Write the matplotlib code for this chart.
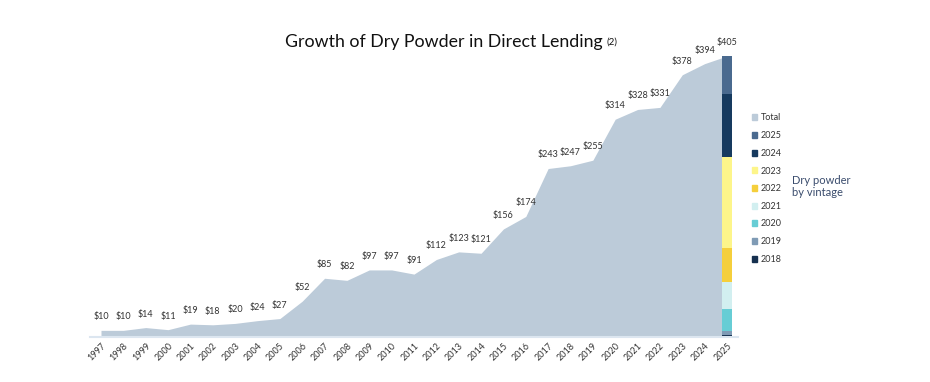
import matplotlib
matplotlib.use("Agg")
import matplotlib.pyplot as plt
from matplotlib.patches import Patch

years = list(range(1997, 2026))
totals = [10, 10, 14, 11, 19, 18, 20, 24, 27, 52, 85, 82, 97, 97, 91, 112, 123, 121,
          156, 174, 243, 247, 255, 314, 328, 331, 378, 394, 405]
vintages = ["2018", "2019", "2020", "2021", "2022", "2023", "2024", "2025"]
vintage_values = [3, 6, 32, 38, 50, 131, 90, 55]
vintage_colors = ["#15304f", "#7f9bb5", "#67cdd5", "#d2eff0", "#f5cf3c", "#fdf58a", "#163a5f", "#4a6a8f"]
area_color = "#bccbd9"

W, H = 930, 382
fig = plt.figure(figsize=(W / 100, H / 100), dpi=100)

# axes in pixel geometry
ax_left, ax_right = 90, 738
ax_bottom_px, ax_top_px = 337.3, 30
ax = fig.add_axes([ax_left / W, (H - ax_bottom_px) / H, (ax_right - ax_left) / W, (ax_bottom_px - ax_top_px) / H])

px_per_year = (727 - 101) / 28
x0 = 1997 - (101 - ax_left) / px_per_year
x1 = x0 + (ax_right - ax_left) / px_per_year
px_per_unit = (337.3 - 56) / 405
ax.set_xlim(x0, x1)
ax.set_ylim(0, (ax_bottom_px - ax_top_px) / px_per_unit)

ax.fill_between(years, totals, 0, color=area_color, linewidth=0, zorder=1)

bottom = 0
bar_w = 10 / px_per_year
for v, c in zip(vintage_values, vintage_colors):
    ax.bar(2025, v, bottom=bottom, width=bar_w, color=c, linewidth=0, zorder=2)
    bottom += v

for yr, t in zip(years, totals):
    ax.annotate(f"${t}", (yr, t), xytext=(0, 6.5), textcoords="offset points",
                ha="center", va="bottom", fontsize=6.5, color="#333333", family="Lato")

for s in ["top", "right", "left"]:
    ax.spines[s].set_visible(False)
ax.spines["bottom"].set_color("#dce6f0")
ax.spines["bottom"].set_linewidth(1.5)
ax.set_yticks([])
ax.set_xticks(years)
ax.set_xticklabels([str(y) for y in years], rotation=45, ha="right", va="top",
                   rotation_mode="anchor", fontsize=6.5, color="#333333", family="Lato")
ax.tick_params(axis="x", length=0, pad=3)

# title
fig.text(285 / W, 1 - 47 / H, "Growth of Dry Powder in Direct Lending", ha="left", va="baseline",
         fontsize=12.8, color="#111111", family="Lato")
fig.text(606 / W, 1 - 45 / H, "(2)", ha="left", va="baseline", fontsize=7, color="#111111",
         family="Lato")

# legend
handles = [Patch(color=area_color, label="Total")] + [
    Patch(color=c, label=l) for l, c in zip(vintages[::-1], vintage_colors[::-1])]
leg = fig.legend(handles=handles, loc="upper left", bbox_to_anchor=(752 / W, 1 - 113.5 / H),
                 frameon=False, fontsize=6.5, handlelength=0.6, handleheight=0.6,
                 handletextpad=0.4, labelspacing=0.96, borderaxespad=0, borderpad=0)
for t in leg.get_texts():
    t.set_color("#333333")
    t.set_family("Lato")

fig.text(792 / W, 1 - 186.5 / H, "Dry powder\nby vintage", ha="left", va="center", fontsize=8,
         color="#3a4c6d", family="Lato", linespacing=1.15)

fig.savefig("out.png", dpi=100)
